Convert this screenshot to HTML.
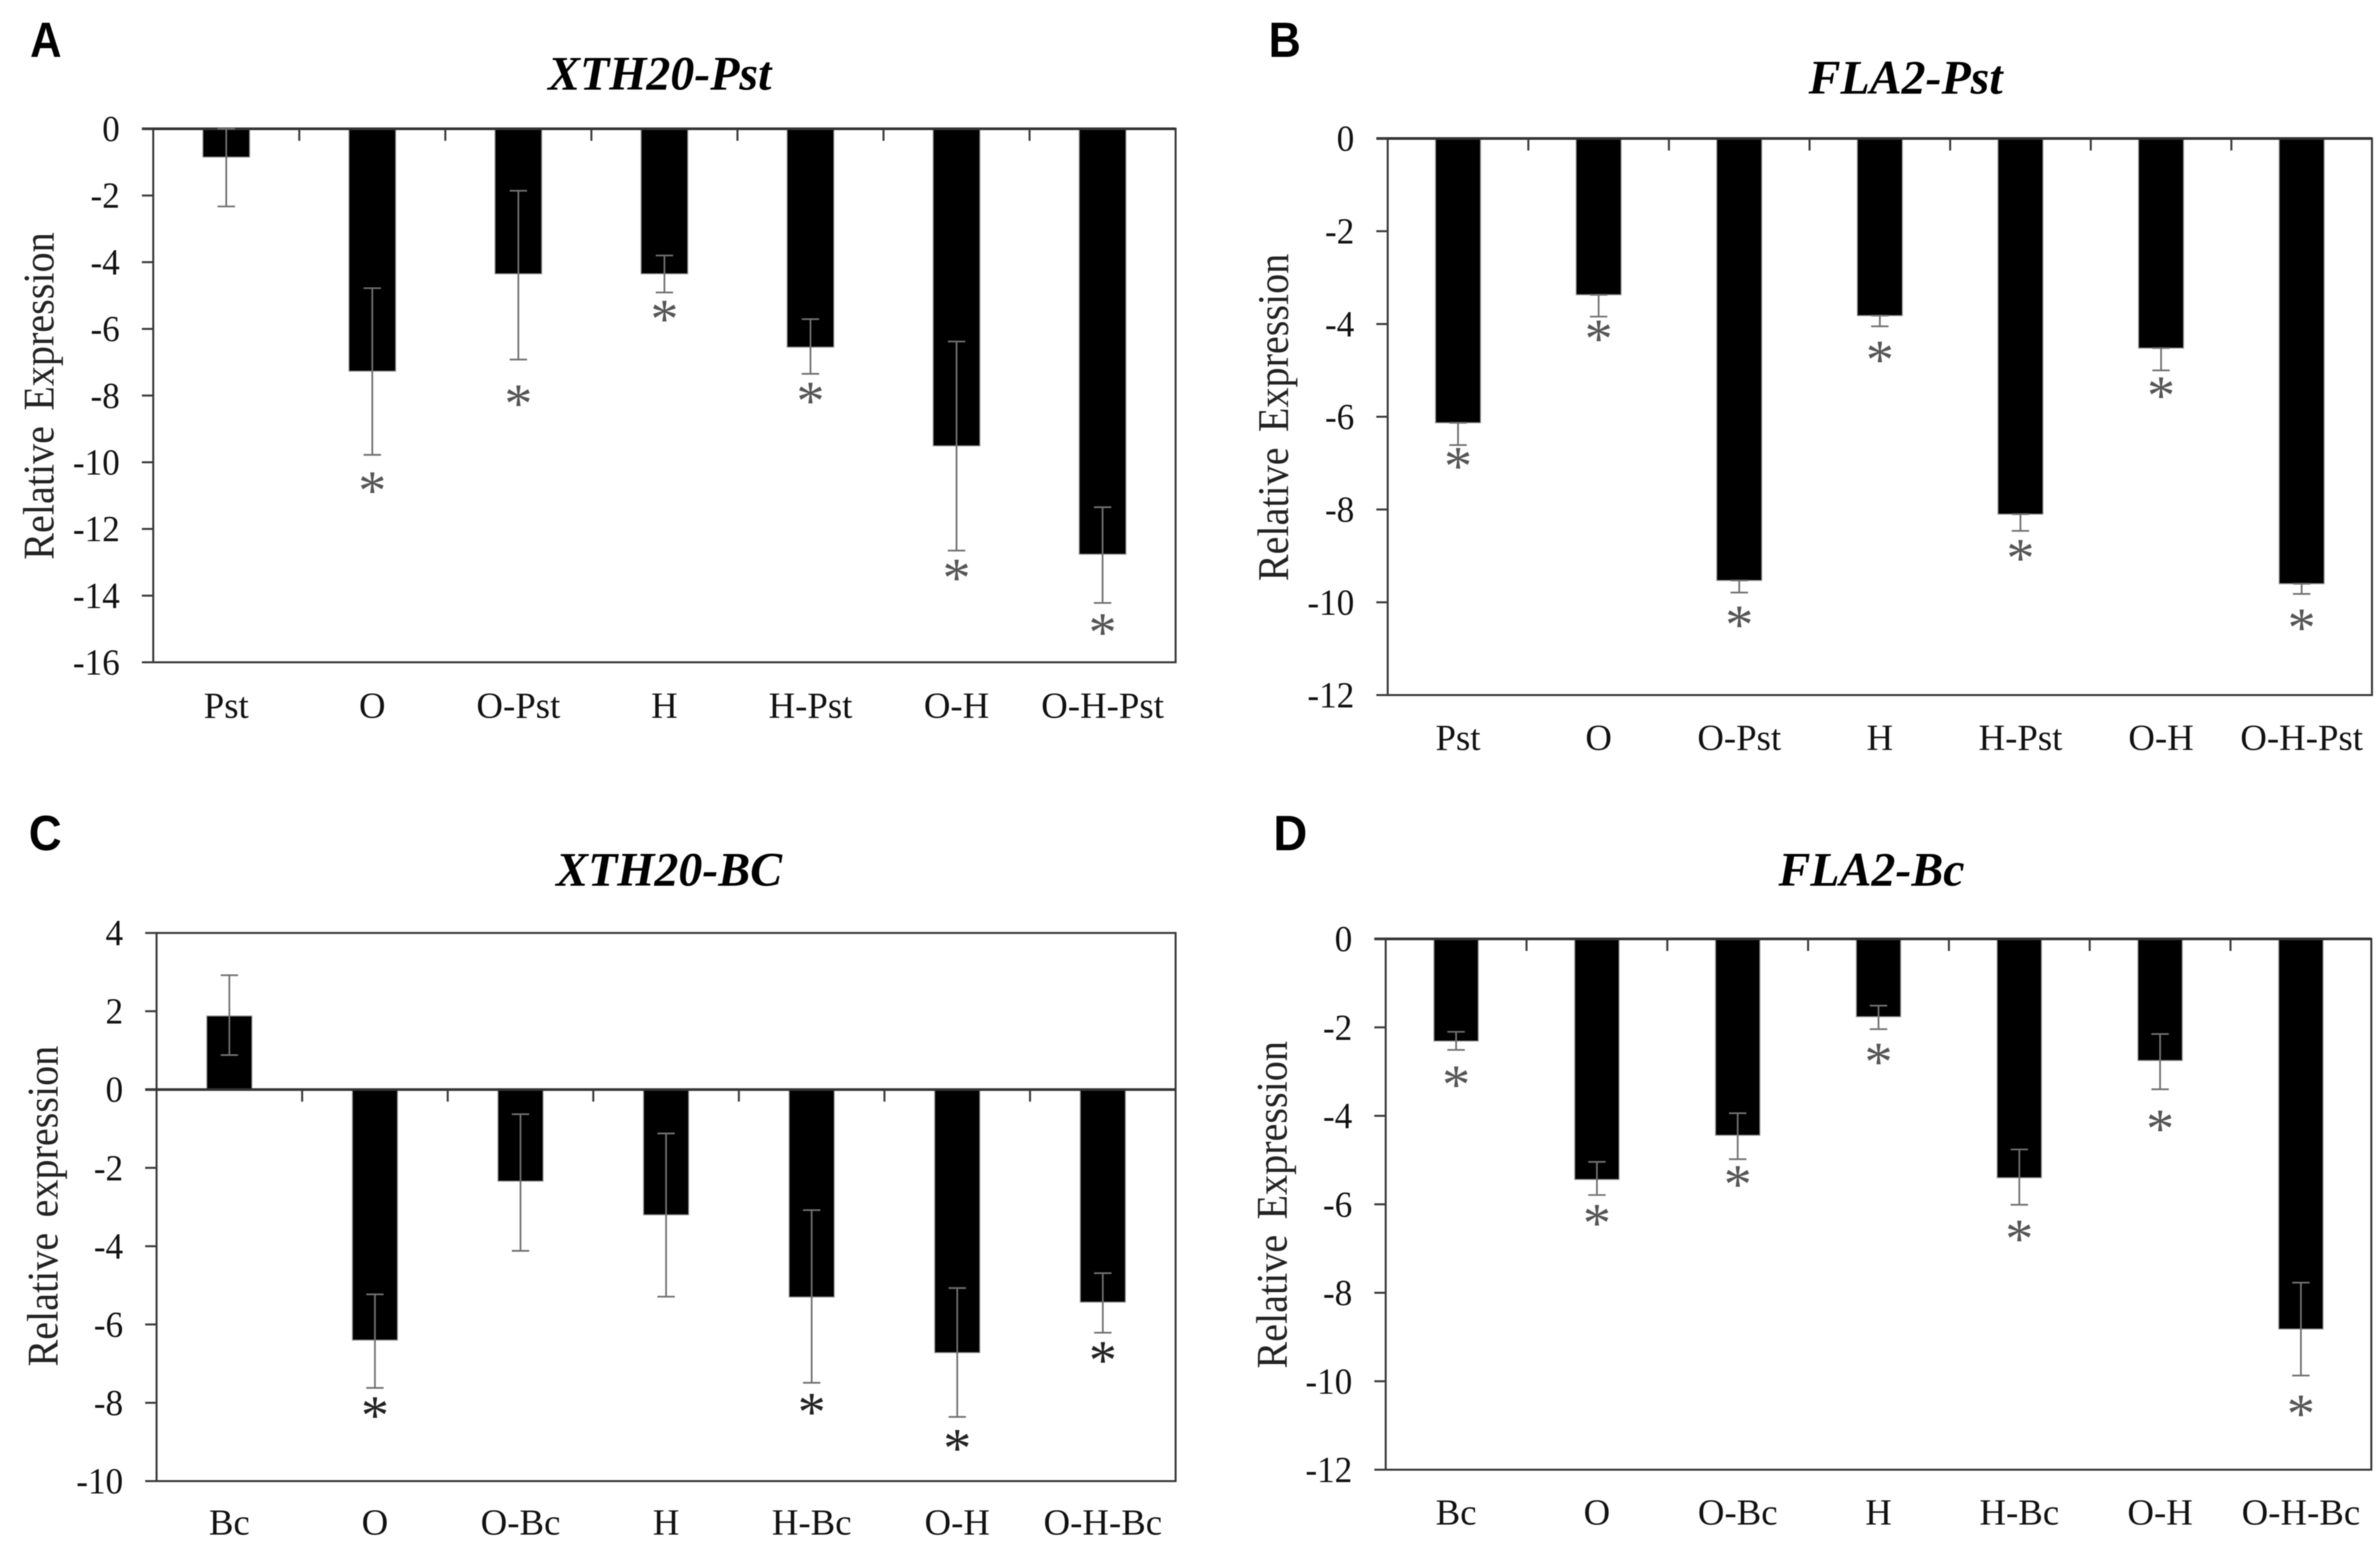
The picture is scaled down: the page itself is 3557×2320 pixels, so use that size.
<!DOCTYPE html>
<html lang="en">
<head>
<meta charset="utf-8">
<title>Relative expression of XTH20 and FLA2</title>
<style>
html,body{margin:0;padding:0;background:#fff;}
svg{display:block;position:absolute;left:0;top:0;filter:blur(0.7px);}
text{font-family:"Liberation Serif",serif;fill:#111;}
.panel-letter{font-family:"Liberation Sans",sans-serif;font-weight:700;font-size:74px;fill:#000;}
.title{font-weight:700;font-style:italic;font-size:71.5px;text-anchor:middle;fill:#000;}
.tick-label{font-size:55px;text-anchor:end;}
.cat-label{font-size:55px;text-anchor:middle;}
.axis-title{font-size:60px;text-anchor:middle;word-spacing:8px;fill:#222;}
</style>
</head>
<body>
<svg id="figure" xmlns="http://www.w3.org/2000/svg" width="3557" height="2320" viewBox="0 0 3557 2320"></svg>
<script>
// Panel A: XTH20-Pst
const categoriesA = ['Pst','O','O-Pst','H','H-Pst','O-H','O-H-Pst'];
const valuesA = [-0.85,-7.27,-4.35,-4.35,-6.55,-9.51,-12.76];
const errTopA = [0,-4.78,-1.86,-3.8,-5.71,-6.38,-11.35];
const errBottomA = [-2.33,-9.78,-6.92,-4.91,-7.35,-12.65,-14.22];
const starLevelsA = [null,-10.66,-8.06,-5.52,-7.97,-13.28,-14.92];
const yTicksA = [0,-2,-4,-6,-8,-10,-12,-14,-16];

// Panel B: FLA2-Pst
const categoriesB = ['Pst','O','O-Pst','H','H-Pst','O-H','O-H-Pst'];
const valuesB = [-6.13,-3.37,-9.53,-3.82,-8.1,-4.52,-9.6];
const errTopB = [-6.13,-3.37,-9.53,-3.82,-8.1,-4.52,-9.6];
const errBottomB = [-6.61,-3.84,-9.79,-4.05,-8.46,-5.0,-9.82];
const starLevelsB = [-6.93,-4.18,-10.35,-4.64,-8.91,-5.41,-10.41];
const yTicksB = [0,-2,-4,-6,-8,-10,-12];

// Panel C: XTH20-BC
const categoriesC = ['Bc','O','O-Bc','H','H-Bc','O-H','O-H-Bc'];
const valuesC = [1.88,-6.4,-2.34,-3.2,-5.3,-6.72,-5.43];
const errTopC = [2.92,-5.23,-0.63,-1.12,-3.08,-5.07,-4.69];
const errBottomC = [0.88,-7.62,-4.12,-5.29,-7.49,-8.36,-6.21];
const starLevelsC = [null,-8.16,null,null,-8.08,-9.0,-6.75];
const yTicksC = [4,2,0,-2,-4,-6,-8,-10];

// Panel D: FLA2-Bc
const categoriesD = ['Bc','O','O-Bc','H','H-Bc','O-H','O-H-Bc'];
const valuesD = [-2.31,-5.44,-4.44,-1.76,-5.4,-2.75,-8.82];
const errTopD = [-2.1,-5.04,-3.94,-1.51,-4.76,-2.15,-7.77];
const errBottomD = [-2.51,-5.79,-4.98,-2.04,-6.01,-3.4,-9.87];
const starLevelsD = [-3.15,-6.28,-5.41,-2.64,-6.64,-4.15,-10.59];
const yTicksD = [0,-2,-4,-6,-8,-10,-12];

const NS = 'http://www.w3.org/2000/svg';
const svg = document.getElementById('figure');

function make(tag, attrs, parent, txt) {
  const el = document.createElementNS(NS, tag);
  for (const k in attrs) el.setAttribute(k, attrs[k]);
  if (txt !== undefined) el.textContent = txt;
  parent.appendChild(el);
  return el;
}

function drawPanel(p) {
  const group = make('g', {}, svg);
  
  

  const n = p.categories.length;
  const step = (p.x1 - p.x0) / n;
  const xCenter = i => p.x0 + step * (i + 0.5);
  const yMax = Math.max.apply(null, p.ticks);
  const yMin = Math.min.apply(null, p.ticks);
  const yScale = v => p.yTop + (yMax - v) * (p.yBottom - p.yTop) / (yMax - yMin);
  const zeroY = yScale(0);
  const barW = step * p.barFrac;

  const letter = make('text', {
    class: 'panel-letter',
    transform: 'translate(' + p.letterX + ',' + p.letterY + ') scale(' + p.letterScale + ',1)'
  }, group, p.id);
  
  

  const title = make('text', {x: p.titleX, y: p.titleY, class: 'title'}, group, p.title);
  
  

  const yTitle = make('text', {
    class: 'axis-title',
    transform: 'translate(' + p.yTitleX + ',' + p.yTitleY + ') rotate(-90) scale(1,1.1)'
  }, group, p.yTitle);
  
  

  // bars
  p.values.forEach((v, i) => {
    const y0 = yScale(Math.max(v, 0));
    const y1 = yScale(Math.min(v, 0));
    const bar = make('rect', {x: xCenter(i) - barW / 2, y: y0, width: barW, height: y1 - y0, fill: '#000', stroke: '#999', 'stroke-width': 1.5}, group);
    
    
  });

  // frame
  const frame = make('rect', {x: p.x0, y: p.yTop, width: p.x1 - p.x0, height: p.yBottom - p.yTop, fill: 'none', stroke: '#3a3a3a', 'stroke-width': 3}, group);
  
  

  // category axis line at zero with ticks
  const zeroLine = make('line', {x1: p.x0 - 17, x2: p.x1, y1: zeroY, y2: zeroY, stroke: '#333', 'stroke-width': 4}, group);
  
  
  for (let i = 1; i < n; i++) {
    const tx = p.x0 + step * i;
    const xt = make('line', {x1: tx, x2: tx, y1: zeroY, y2: zeroY + 18, stroke: '#3a3a3a', 'stroke-width': 3}, group);
    
    
  }

  // y ticks + labels
  p.ticks.forEach(t => {
    const y = yScale(t);
    const yt = make('line', {x1: p.x0 - 17, x2: p.x0, y1: y, y2: y, stroke: '#3a3a3a', 'stroke-width': 3}, group);
    
    
    const lab = make('text', {
      class: 'tick-label',
      transform: 'translate(' + (p.x0 - 50) + ',' + (y + 18.5) + ') scale(0.955,1)'
    }, group, String(t));
    
    
  });

  // category labels
  p.categories.forEach((c, i) => {
    const lab = make('text', {x: xCenter(i), y: p.catY, class: 'cat-label'}, group, c);
    
    
  });

  // error bars
  p.values.forEach((v, i) => {
    const cx = xCenter(i);
    const yA = yScale(p.errTop[i]);
    const yB = yScale(p.errBottom[i]);
    const err = make('g', {stroke: '#707070', 'stroke-width': 2.6, fill: 'none'}, group);
    
    
    make('line', {x1: cx, x2: cx, y1: yA, y2: yB}, err);
    make('line', {x1: cx - 13, x2: cx + 13, y1: yA, y2: yA}, err);
    make('line', {x1: cx - 13, x2: cx + 13, y1: yB, y2: yB}, err);
  });

  // significance stars
  p.stars.forEach((s, i) => {
    if (s === null) return;
    const star = make('text', {x: xCenter(i), y: yScale(s) + 37, 'text-anchor': 'middle', style: 'font-size:84px;fill:' + p.starColor}, group, '*');
    
    
  });
}

drawPanel({id:'A', title:'XTH20-Pst', yTitle:'Relative Expression',
  categories:categoriesA, values:valuesA, errTop:errTopA, errBottom:errBottomA, stars:starLevelsA, ticks:yTicksA,
  x0:229, x1:1757, yTop:192.5, yBottom:990, barFrac:0.32, catY:1073,
  letterX:45, letterY:85, letterScale:0.88, titleX:986, titleY:134, yTitleX:80, yTitleY:592, starColor:'#555'});

drawPanel({id:'B', title:'FLA2-Pst', yTitle:'Relative Expression',
  categories:categoriesB, values:valuesB, errTop:errTopB, errBottom:errBottomB, stars:starLevelsB, ticks:yTicksB,
  x0:2074, x1:3545, yTop:207, yBottom:1039, barFrac:0.32, catY:1121,
  letterX:1896, letterY:85, letterScale:0.9, titleX:2848, titleY:140, yTitleX:1925, yTitleY:624, starColor:'#555'});

drawPanel({id:'C', title:'XTH20-BC', yTitle:'Relative expression',
  categories:categoriesC, values:valuesC, errTop:errTopC, errBottom:errBottomC, stars:starLevelsC, ticks:yTicksC,
  x0:234, x1:1757, yTop:1394.6, yBottom:2214, barFrac:0.31, catY:2294,
  letterX:43, letterY:1271, letterScale:0.92, titleX:1000, titleY:1324, yTitleX:86, yTitleY:1803, starColor:'#222'});

drawPanel({id:'D', title:'FLA2-Bc', yTitle:'Relative Expression',
  categories:categoriesD, values:valuesD, errTop:errTopD, errBottom:errBottomD, stars:starLevelsD, ticks:yTicksD,
  x0:2071, x1:3544, yTop:1403.5, yBottom:2197, barFrac:0.315, catY:2279,
  letterX:1903, letterY:1271, letterScale:0.95, titleX:2797, titleY:1324, yTitleX:1923, yTitleY:1801, starColor:'#555'});
</script>
</body>
</html>
